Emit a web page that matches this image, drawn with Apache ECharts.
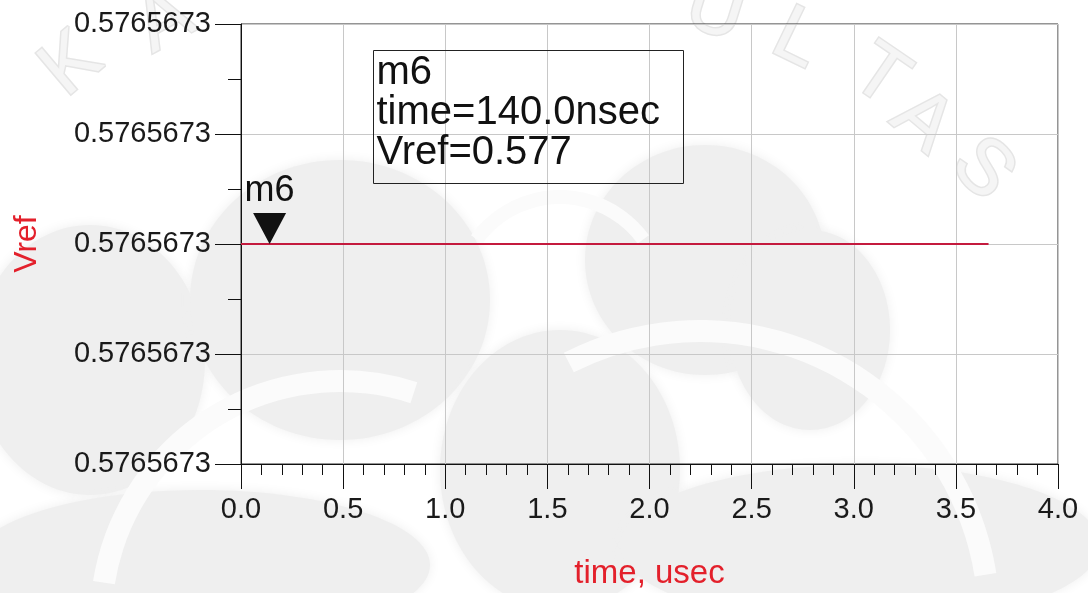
<!DOCTYPE html>
<html>
<head>
<meta charset="utf-8">
<title>Vref transient</title>
<script src="https://cdn.jsdelivr.net/npm/echarts@6/dist/echarts.min.js"></script>
<style>
  html, body { margin: 0; padding: 0; background: #ffffff; }
  #chart { width: 1088px; height: 593px; }
</style>
</head>
<body>
<div id="chart"></div>
<script>
// Transient simulation output: reference voltage vs time (usec)
const timeUsec = [0.0, 3.66];
const vref = [0.5765673, 0.5765673];

// Marker m6 readout
const markerName = 'm6';
const markerTime = 0.14;          // usec
const markerValue = 0.5765673;    // V

// Axis tick values
const xTicks = [0.0, 0.5, 1.0, 1.5, 2.0, 2.5, 3.0, 3.5, 4.0];
const yMin = 0.57656728, yMax = 0.57656732, yStep = 0.00000001;

const chart = echarts.init(document.getElementById('chart'), null, { renderer: 'canvas' });
const FONT = '"Liberation Sans", Arial, sans-serif';
const RED = '#e3202b';

// Faint page emblem sitting behind the plot
const WM = '#efefef';
const blob = (cx, cy, rx, ry) => ({
  type: 'ellipse', z: -5, silent: true,
  shape: { cx, cy, rx, ry },
  style: { fill: WM, shadowBlur: 12, shadowColor: WM }
});
const band = (cx, cy, r, r0, a0, a1) => ({
  type: 'sector', z: -4, silent: true,
  shape: { cx, cy, r, r0, startAngle: a0, endAngle: a1 },
  style: { fill: '#fbfbfb' }
});
const letter = (ch, x, y, rot) => ({
  type: 'text', z: -3, silent: true, x, y, rotation: rot,
  style: { text: ch, font: '78px ' + FONT, fill: '#f5f5f5', stroke: '#e5e5e5',
           lineWidth: 3, align: 'center', verticalAlign: 'middle' }
});
const emblem = [
  blob(90, 360, 115, 135),
  blob(340, 300, 150, 140),
  blob(200, 565, 230, 75),
  blob(705, 260, 120, 115),
  blob(810, 330, 80, 100),
  blob(560, 470, 120, 140),
  blob(860, 545, 240, 80),
  band(340, 620, 250, 228, Math.PI * 1.05, Math.PI * 1.6),
  band(700, 620, 300, 278, Math.PI * 1.35, Math.PI * 1.95),
  band(560, 300, 110, 96, Math.PI * 1.2, Math.PI * 1.8),
  letter('K', 72, 65, 0.7),
  letter('A', 165, 22, 0.5),
  letter('U', 715, 12, -0.3),
  letter('L', 797, 40, -0.45),
  letter('T', 879, 77, -0.6),
  letter('A', 922, 122, -0.7),
  letter('S', 982, 170, -0.8)
];

chart.setOption({
  animation: false,
  backgroundColor: '#ffffff',
  grid: {
    left: 241, right: 30, top: 24, bottom: 129,
    containLabel: false, outerBoundsMode: 'none',
    show: true, borderColor: '#2a2a2a', borderWidth: 1, backgroundColor: 'transparent'
  },
  xAxis: {
    type: 'value',
    min: xTicks[0], max: xTicks[xTicks.length - 1], interval: 0.5,
    name: 'time, usec', nameLocation: 'middle', nameGap: 93,
    nameTextStyle: { color: RED, fontSize: 33, fontFamily: FONT },
    axisLine: { show: true, onZero: false, lineStyle: { color: '#111', width: 1 } },
    axisTick: { show: true, inside: false, length: 25, lineStyle: { color: '#111' } },
    minorTick: { show: true, splitNumber: 5, length: 11, lineStyle: { color: '#111' } },
    splitLine: { show: true, lineStyle: { color: '#c8c8c8', width: 1 } },
    axisLabel: { margin: 31, fontSize: 29, color: '#1a1a1a', fontFamily: FONT,
      formatter: v => v.toFixed(1) }
  },
  yAxis: {
    type: 'value',
    min: yMin, max: yMax, interval: yStep,
    name: 'Vref', nameLocation: 'middle', nameGap: 198, nameRotate: 90,
    nameTextStyle: { color: RED, fontSize: 32, fontFamily: FONT },
    axisLine: { show: true, onZero: false, lineStyle: { color: '#111', width: 1 } },
    axisTick: { show: true, inside: false, length: 26, lineStyle: { color: '#111' } },
    minorTick: { show: true, splitNumber: 2, length: 13, lineStyle: { color: '#111' } },
    splitLine: { show: true, lineStyle: { color: '#c8c8c8', width: 1 } },
    axisLabel: { margin: 30, fontSize: 29, color: '#1a1a1a', fontFamily: FONT,
      formatter: v => v.toFixed(7) }
  },
  series: [{
    type: 'line',
    name: 'Vref',
    data: timeUsec.map((t, i) => [t, vref[i]]),
    showSymbol: false,
    lineStyle: { color: '#c41a3e', width: 2 },
    markPoint: {
      silent: true,
      data: [{
        coord: [markerTime, markerValue],
        symbol: 'triangle', symbolRotate: 180, symbolSize: [33, 31],
        symbolOffset: [0, '-50%'],
        itemStyle: { color: '#111' },
        label: {
          show: true, position: 'top', distance: 4,
          formatter: markerName,
          fontSize: 36, color: '#111', fontFamily: FONT
        }
      }]
    }
  }],
  graphic: [
    { type: 'group', z: -5, silent: true, children: emblem },
    {
      type: 'group', left: 373, top: 50, z: 100,
      children: [
        { type: 'rect', z: 100, shape: { x: 0, y: 0, width: 310, height: 133 },
          style: { fill: 'rgba(255,255,255,0)', stroke: '#222', lineWidth: 1 } },
        { type: 'text', z: 101, left: 3, top: 2,
          style: {
            text: [markerName,
                   'time=' + (markerTime * 1000).toFixed(1) + 'nsec',
                   'Vref=' + markerValue.toFixed(3)].join('\n'),
            font: '40px ' + FONT, lineHeight: 40, fill: '#111'
          } }
      ]
    }
  ]
});
</script>
</body>
</html>
